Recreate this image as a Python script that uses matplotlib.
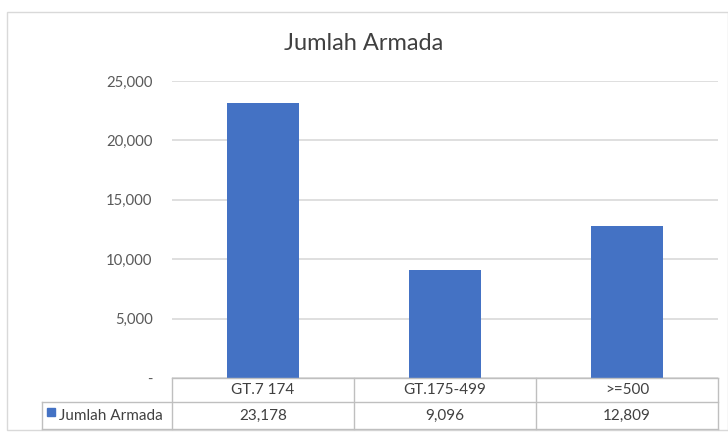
import matplotlib
matplotlib.use("Agg")
import matplotlib.pyplot as plt
from matplotlib.patches import Rectangle
from matplotlib.lines import Line2D

categories = ["GT.7 174", "GT.175-499", ">=500"]
values = [23178, 9096, 12809]
series_name = "Jumlah Armada"
title = "Jumlah Armada"
yticks = [0, 5000, 10000, 15000, 20000, 25000]

plt.rcParams['font.family'] = ['Lato', 'DejaVu Sans']
W, H = 728, 432
fig = plt.figure(figsize=(W/100, H/100), dpi=100)

def fx(px): return px / W
def fy(py): return 1 - py / H

# outer chart border
fig.patches.append(Rectangle((fx(7), fy(430)), fx(728) - fx(7), fy(12) - fy(430),
                             transform=fig.transFigure, fill=False, edgecolor='#d9d9d9', lw=1))

left, right, top, bottom = 172, 718, 81, 378
ax = fig.add_axes([fx(left), fy(bottom), fx(right) - fx(left), fy(top) - fy(bottom)])
x = list(range(len(categories)))
ax.bar(x, values, width=0.4, color='#4472C4', zorder=3)
ax.set_xlim(-0.5, len(categories) - 0.5)
ax.set_ylim(0, 25000)
ax.set_yticks(yticks)
ax.set_yticklabels([("-" if v == 0 else f"{v:,}") for v in yticks], fontsize=10.7, color='#595959')
ax.tick_params(axis='y', length=0, pad=14)
ax.set_xticks([])
for s in ax.spines.values():
    s.set_visible(False)
ax.grid(axis='y', color='#d9d9d9', lw=1.2, zorder=0)
ax.set_facecolor('none')

fig.text(0.5, fy(43), title, ha='center', va='center', fontsize=17, color='#404040')

# data table
r0, r1, r2 = 378, 402, 429
hl = 42
col_edges = [left + (right - left) * i / len(categories) for i in range(len(categories) + 1)]
lc = '#bfbfbf'
def hline(y, x0, x1):
    fig.add_artist(Line2D([fx(x0), fx(x1)], [fy(y), fy(y)], color=lc, lw=1, transform=fig.transFigure))
def vline(xp, y0, y1):
    fig.add_artist(Line2D([fx(xp), fx(xp)], [fy(y0), fy(y1)], color=lc, lw=1, transform=fig.transFigure))
hline(r0, left, right)
hline(r1, hl, right)
hline(r2, hl, right)
vline(hl, r1, r2)
for ce in col_edges:
    vline(ce, r0, r2)
fs = 11
for i, (c, v) in enumerate(zip(categories, values)):
    cx = (col_edges[i] + col_edges[i + 1]) / 2
    fig.text(fx(cx), fy((r0 + r1) / 2), c, ha='center', va='center', fontsize=fs, color='#404040')
    fig.text(fx(cx), fy((r1 + r2) / 2), f"{v:,}", ha='center', va='center', fontsize=fs, color='#404040')
fig.patches.append(Rectangle((fx(47), fy(416)), fx(55) - fx(47), fy(408) - fy(416),
                             transform=fig.transFigure, color='#4472C4'))
fig.text(fx(59), fy((r1 + r2) / 2), series_name, ha='left', va='center', fontsize=fs, color='#404040')

fig.savefig("out.png", dpi=100)
